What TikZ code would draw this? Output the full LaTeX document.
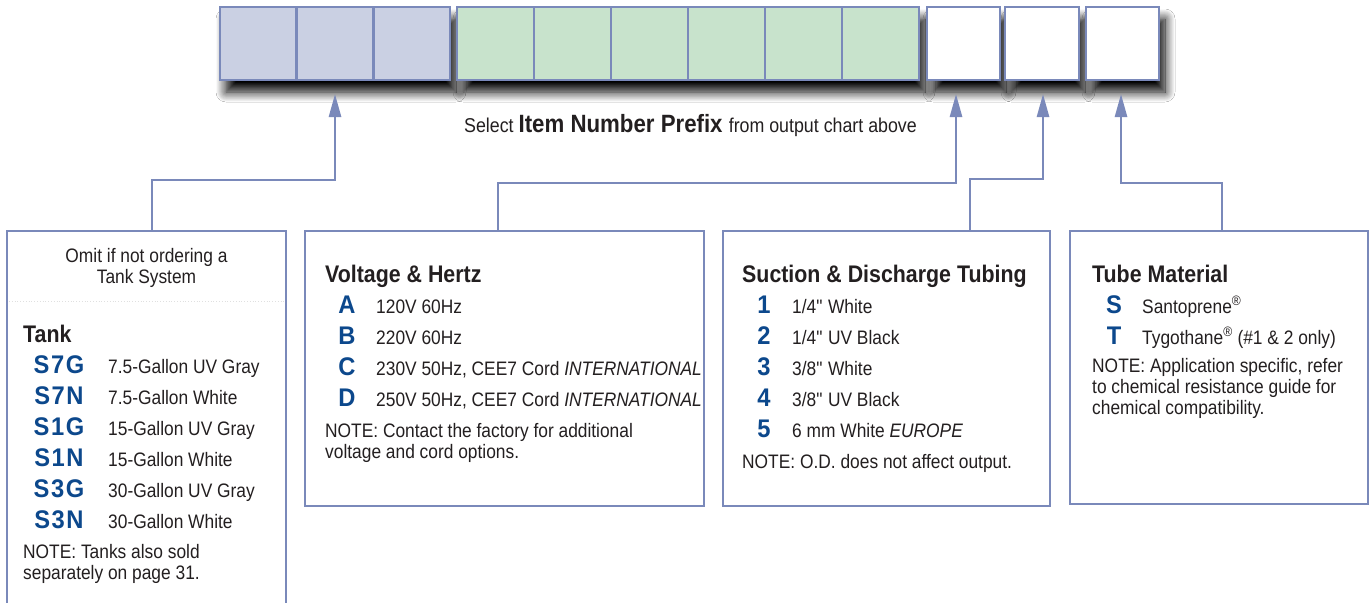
\documentclass[tikz,border=0pt]{standalone}
\usepackage{fontspec}
\setmainfont[FakeStretch=0.89]{Liberation Sans}
\newfontfamily\codefont[FakeStretch=0.93,LetterSpace=6]{Liberation Sans}
\usetikzlibrary{shadows.blur,arrows.meta,calc}
\definecolor{edge}{RGB}{122,137,186}
\definecolor{lav}{RGB}{202,208,227}
\definecolor{mint}{RGB}{200,227,204}
\definecolor{codeblue}{RGB}{12,72,140}
\definecolor{ink}{RGB}{35,31,32}
\begin{document}
\begin{tikzpicture}[x=1pt,y=-1pt,
  cell/.style={draw=edge, line width=2.6pt, minimum height=73pt, inner sep=0pt, outer sep=0pt},
  panel/.style={draw=edge, line width=2.4pt, fill=white, inner sep=0pt, outer sep=0pt},
  conn/.style={draw=edge, line width=2.6pt},
  arr/.style={conn, -{Triangle[length=23pt,width=12pt]}},
  desc/.style={anchor=base west, inner sep=0pt, text=ink, font=\fontsize{19.5}{21}\selectfont},
  cdesc/.style={anchor=base, inner sep=0pt, text=ink, font=\fontsize{19.5}{21}\selectfont},
  code/.style={anchor=base, inner sep=0pt, text=codeblue, font=\codefont\bfseries\fontsize{25.5}{28}\selectfont},
  head/.style={anchor=base west, inner sep=0pt, text=ink, font=\bfseries\fontsize{24}{26}\selectfont},
  shad/.style={blur shadow={shadow xshift=6pt, shadow yshift=-12pt, shadow blur radius=10pt, shadow blur steps=12, shadow opacity=100}}
]
\clip (0,0) rectangle (1372,602);
\fill[white] (0,0) rectangle (1372,602);

% shadows of the header cells
\fill[white, shad] (220,7) rectangle (450,80);
\fill[white, shad] (457,7) rectangle (919,80);
\fill[white, shad] (927,7) rectangle (1000,80);
\fill[white, shad] (1005,7) rectangle (1079,80);
\fill[white, shad] (1086,7) rectangle (1159,80);

% header cells
\foreach \i in {1,2,3}
  \node[cell, fill=lav, minimum width=76.67pt] (p\i) at ({220+76.67*(\i-0.5)},43.5) {};
\foreach \i in {1,...,6}
  \node[cell, fill=mint, minimum width=77pt] (g\i) at ({457+77*(\i-0.5)},43.5) {};
\node[cell, fill=white, minimum width=73pt] (w1) at (963.5,43.5) {};
\node[cell, fill=white, minimum width=74pt] (w2) at (1042,43.5) {};
\node[cell, fill=white, minimum width=73pt] (w3) at (1122.5,43.5) {};

% caption
\node[anchor=base, inner sep=0pt, text=ink] (sel) at (690.5,132)
  {\fontsize{20}{22}\selectfont Select \bfseries\fontsize{25}{26}\selectfont Item Number Prefix \mdseries\fontsize{20}{22}\selectfont from output chart above};

% panels
\node[panel, minimum width=279pt, minimum height=400pt, anchor=north west] (tank) at (7,231) {};
\node[panel, minimum width=399pt, minimum height=275pt, anchor=north west] (volt) at (305,231) {};
\node[panel, minimum width=327pt, minimum height=275pt, anchor=north west] (suct) at (723,231) {};
\node[panel, minimum width=298pt, minimum height=273pt, anchor=north west] (tube) at (1070,231) {};

\draw[black!12, dotted, line width=0.8pt] ($(tank.north west)+(2,70)$) -- ($(tank.north east)+(-2,70)$);

% connectors
\draw[arr] ([xshift=5.5pt]tank.north) |- ([yshift=-100pt]p2.south) -- ([yshift=-14pt]p2.south);
\draw[arr] ([xshift=-6.5pt]volt.north) |- ([xshift=-7.5pt,yshift=-103pt]w1.south) -- ([xshift=-7.5pt,yshift=-14pt]w1.south);
\draw[arr] ([xshift=83.5pt]suct.north) |- ([xshift=1pt,yshift=-99pt]w2.south) -- ([xshift=1pt,yshift=-14pt]w2.south);
\draw[arr] ([xshift=3pt]tube.north) |- ([xshift=-1.5pt,yshift=-103pt]w3.south) -- ([xshift=-1.5pt,yshift=-14pt]w3.south);

% tank panel
\node[cdesc] (om1) at (146.5,262) {Omit if not ordering a};
\node[cdesc] (om2) at (146.5,283) {Tank System};
\node[head] (tkh) at (23,342) {Tank};
\foreach \c/\d [count=\i] in {S7G/7.5-Gallon UV Gray, S7N/7.5-Gallon White, S1G/15-Gallon UV Gray, S1N/15-Gallon White, S3G/30-Gallon UV Gray, S3N/30-Gallon White} {
  \node[code] (tkc\i) at (59,{342+31*\i}) {\c};
  \node[desc] (tkd\i) at (108,{342+31*\i}) {\d};
}
\node[desc] (tkn1) at (23,558) {NOTE: Tanks also sold};
\node[desc] (tkn2) at (23,579) {separately on page 31.};

% voltage panel
\node[head] (vh) at (325,282) {Voltage \& Hertz};
\foreach \c/\d [count=\i] in {A/{120V 60Hz}, B/{220V 60Hz}, C/{230V 50Hz, CEE7 Cord \textit{INTERNATIONAL}}, D/{250V 50Hz, CEE7 Cord \textit{INTERNATIONAL}}} {
  \node[code] (vc\i) at (347,{282+31*\i}) {\c};
  \node[desc] (vd\i) at (376,{282+31*\i}) {\d};
}
\node[desc] (vn1) at (325,437) {NOTE: Contact the factory for additional};
\node[desc] (vn2) at (325,458) {voltage and cord options.};

% suction panel
\node[head] (suh) at (742,282) {Suction \& Discharge Tubing};
\foreach \c/\d [count=\i] in {1/{1/4\textquotedbl{} White}, 2/{1/4\textquotedbl{} UV Black}, 3/{3/8\textquotedbl{} White}, 4/{3/8\textquotedbl{} UV Black}, 5/{6 mm White \textit{EUROPE}}} {
  \node[code] (sc\i) at (764,{282+31*\i}) {\c};
  \node[desc] (sd\i) at (792,{282+31*\i}) {\d};
}
\node[desc] (sn1) at (742,468) {NOTE: O.D. does not affect output.};

% tube panel
\node[head] (th) at (1092,282) {Tube Material};
\node[code] (tc1) at (1114,313) {S};
\node[desc] (td1) at (1142,313) {Santoprene\textsuperscript{®}};
\node[code] (tc2) at (1114,344) {T};
\node[desc] (td2) at (1142,344) {Tygothane\textsuperscript{®} (\#1 \& 2 only)};
\node[desc] (tn1) at (1092,372) {NOTE: Application specific, refer};
\node[desc] (tn2) at (1092,393) {to chemical resistance guide for};
\node[desc] (tn3) at (1092,414) {chemical compatibility.};
\end{tikzpicture}
\end{document}
